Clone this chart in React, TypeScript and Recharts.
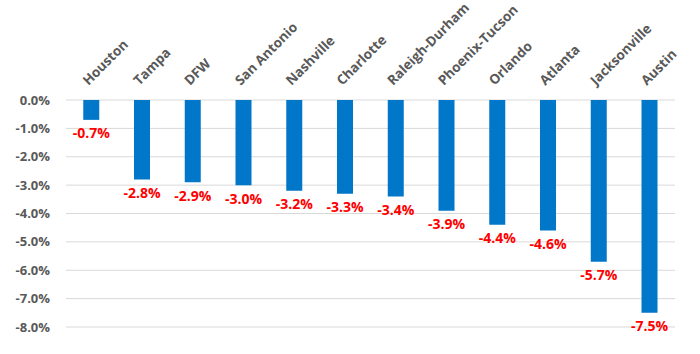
import { BarChart, Bar, XAxis, YAxis, CartesianGrid, LabelList } from "recharts";

const markets = [
  "Houston",
  "Tampa",
  "DFW",
  "San Antonio",
  "Nashville",
  "Charlotte",
  "Raleigh-Durham",
  "Phoenix-Tucson",
  "Orlando",
  "Atlanta",
  "Jacksonville",
  "Austin",
];
const changes = [-0.7, -2.8, -2.9, -3.0, -3.2, -3.3, -3.4, -3.9, -4.4, -4.6, -5.7, -7.5];
const yTicks = [0, -1, -2, -3, -4, -5, -6, -7, -8];

const data = markets.map((name, i) => ({ name, change: changes[i] }));

const FONT = "'Open Sans', 'DejaVu Sans', sans-serif";
const pct = (v: number) => `${v.toFixed(1)}%`;

const MarketTick = (props: any) => {
  const { x, payload } = props;
  return (
    <text
      transform={`translate(${x - 3}, 86) rotate(-45)`}
      textAnchor="start"
      fill="#595959"
      fontSize={13.5}
      fontWeight={700}
      fontFamily={FONT}
    >
      {payload.value}
    </text>
  );
};

const ValueLabel = (props: any) => {
  const { x, y, width, height, value } = props;
  const bottom = Math.max(y, y + height);
  return (
    <text
      x={x + width / 2}
      y={bottom + 13}
      textAnchor="middle"
      dominantBaseline="central"
      fill="#ff0000"
      fontSize={14}
      fontWeight={700}
      fontFamily={FONT}
    >
      {pct(value)}
    </text>
  );
};

const App = () => {
  return (
    <div style={{ position: "absolute", left: 0, top: 0, background: "#fff" }}>
      <BarChart
        width={700}
        height={354}
        data={data}
        margin={{ top: 0, right: 25, bottom: 27, left: 0 }}
        barCategoryGap="34%"
      >
        <CartesianGrid vertical={false} stroke="#d9d9d9" />
        <XAxis
          dataKey="name"
          orientation="top"
          height={100}
          axisLine={false}
          tickLine={false}
          interval={0}
          tick={<MarketTick />}
        />
        <YAxis
          domain={[-8, 0]}
          ticks={yTicks}
          width={66}
          axisLine={false}
          tickLine={false}
          tickSize={0}
          tickMargin={16}
          tickFormatter={pct}
          tick={{ fill: "#595959", fontSize: 13, fontWeight: 700, fontFamily: FONT }}
        />
        <Bar dataKey="change" fill="#0077c8" isAnimationActive={false}>
          <LabelList dataKey="change" content={<ValueLabel />} />
        </Bar>
      </BarChart>
    </div>
  );
};

export default App;
